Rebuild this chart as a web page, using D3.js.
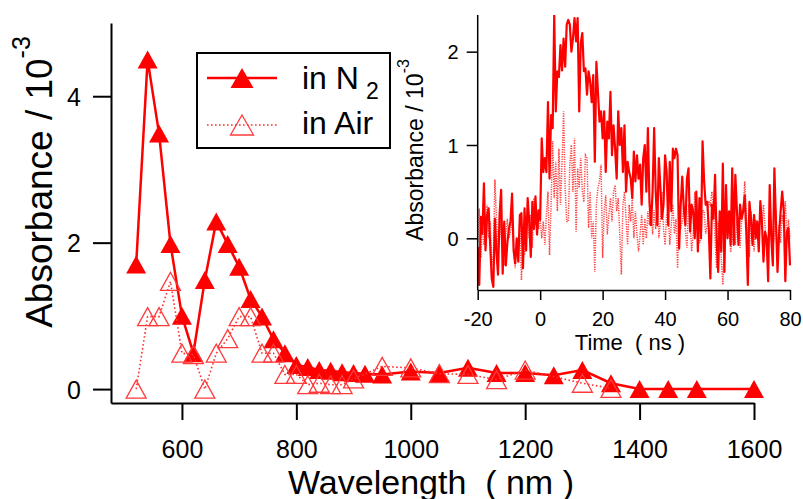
<!DOCTYPE html>
<html>
<head>
<meta charset="utf-8">
<script src="https://cdn.jsdelivr.net/npm/d3@7"></script>
<style>
html,body{margin:0;padding:0;background:#fff;}
svg{display:block;}
text{font-family:"Liberation Sans", Arial, sans-serif;}
</style>
</head>
<body>
<svg id="chart" width="803" height="499"></svg>
<script>
// ---------- main spectrum data ----------
const wavelengthN2 = [520,540,560,580,600,620,640,660,680,700,720,740,760,780,800,820,840,860,880,900,920,950,1000,1050,1100,1150,1200,1250,1300,1350,1400,1450,1500,1600];
const absorbanceN2 = [1.70,4.50,3.49,1.98,1.00,0.49,1.49,2.29,1.98,1.67,1.23,0.99,0.68,0.49,0.33,0.30,0.26,0.25,0.23,0.22,0.21,0.20,0.24,0.22,0.29,0.22,0.22,0.19,0.26,0.08,0.00,0.00,0.00,0.00];
const wavelengthAir = [520,540,560,580,600,620,640,660,680,700,720,740,760,780,800,820,840,860,880,900,950,1000,1050,1100,1150,1200,1300,1350];
const absorbanceAir = [0.00,0.99,0.99,1.47,0.49,0.47,0.00,0.49,0.69,0.99,0.99,0.49,0.49,0.20,0.20,0.06,0.08,0.06,0.06,0.14,0.31,0.29,0.21,0.20,0.13,0.26,0.08,0.01];
const xTicksMain = [600,800,1000,1200,1400,1600];
const yTicksMain = [0,2,4];

// ---------- inset kinetic trace data ----------
const timeStart = -20, timeEnd = 80;
const kineticN2 = [
-0.09,-0.50,0.23,0.05,0.59,-0.13,0.25,0.32,-0.07,-0.43,-0.52,0.21,-0.14,-0.39,0.25,0.52,-0.38,0.18,-0.29,-0.05,
0.10,0.18,0.48,-0.13,-0.27,0.00,-0.25,0.25,0.27,-0.32,0.32,-0.13,0.43,0.18,-0.20,0.39,0.10,0.45,0.04,0.30,
0.20,1.07,0.71,0.86,0.71,1.46,0.64,1.32,1.18,2.39,1.36,1.79,1.73,2.07,1.80,2.14,1.84,2.29,
2.34,2.29,2.00,2.14,2.36,2.11,2.36,1.36,2.09,2.20,1.79,1.82,1.54,1.79,1.68,1.46,1.75,0.82,1.89,1.57,
1.25,1.36,1.07,1.36,0.71,1.25,1.07,1.57,0.89,1.21,0.96,0.64,1.36,1.00,1.18,0.71,1.21,0.50,0.82,0.71,
0.64,0.43,0.93,0.61,0.89,0.64,0.79,0.36,0.86,1.00,0.50,1.18,0.39,0.14,0.50,
1.18,0.50,0.14,0.86,0.54,0.21,0.36,0.89,0.71,0.14,0.82,0.29,0.96,0.86,0.96,0.89,-0.11,0.36,0.66,0.32,0.14,0.64,0.75,0.07,0.36,0.29,0.00,
0.50,-0.14,0.43,0.00,1.04,0.61,0.36,0.39,0.10,-0.43,0.36,0.21,0.68,0.00,-0.36,0.29,-0.14,0.80,-0.36,0.57,0.00,
0.29,-0.07,0.75,-0.07,0.68,0.30,-0.07,0.36,0.21,0.29,0.46,0.07,-0.50,0.39,0.21,-0.07,0.25,0.00,0.18,-0.14,
0.40,0.18,-0.25,0.07,0.00,-0.46,0.57,0.00,-0.29,0.75,0.18,-0.36,0.04,0.29,0.50,0.29,-0.46,0.07,0.11,-0.29
];
const kineticAir = [
-0.04,0.32,-0.21,0.18,-0.07,0.07,0.36,0.00,0.18,-0.21,-0.29,0.63,0.21,-0.11,0.00,0.18,-0.14,-0.29,0.04,0.21,
0.00,0.07,0.18,-0.07,-0.32,0.00,-0.18,0.21,-0.45,-0.07,-0.18,0.04,0.32,0.00,0.25,-0.10,0.43,0.14,0.30,0.10,
0.21,0.00,0.18,-0.07,0.25,0.50,-0.18,0.36,1.04,0.43,0.82,0.29,0.96,0.36,0.79,1.36,0.54,0.18,
0.18,0.79,1.00,0.50,1.07,0.07,0.75,0.54,0.86,0.50,0.39,0.89,0.86,0.11,0.50,0.00,0.18,-0.36,0.36,0.54,
0.61,0.79,-0.21,0.29,0.46,0.04,0.25,0.43,0.18,0.50,0.57,0.29,0.43,0.04,-0.39,0.36,0.50,0.21,-0.07,0.36,
0.18,0.43,0.00,0.29,0.04,-0.14,0.04,0.25,-0.07,0.21,0.00,0.29,0.14,0.36,0.04,
0.30,0.10,0.45,0.00,0.20,0.50,0.10,-0.07,
0.25,0.29,-0.07,0.15,0.36,0.05,0.21,-0.32,0.29,0.10,0.18,0.35,0.07,-0.10,0.36,0.20,-0.14,0.04,0.50,0.10,
0.18,-0.05,0.00,0.30,0.29,0.05,0.14,0.40,0.36,0.50,0.29,0.00,-0.32,0.18,0.00,-0.21,-0.50,0.00,0.21,0.10,
0.18,-0.15,0.00,0.29,-0.07,0.20,0.07,-0.10,0.18,0.30,0.61,0.29,0.00,-0.20,0.29,0.10,-0.14,0.20,0.07,-0.05,
0.36,0.10,0.36,0.14,-0.10,0.00,0.25,0.21,-0.08,0.00,0.30,-0.21,0.14,-0.05,0.25,0.14,0.40,0.00,0.20,0.00
];
const xTicksInset = [-20,0,20,40,60,80];
const yTicksInset = [0,1,2];

const RED = "#ff0000";
const fmt = d => String(d);
const svg = d3.select("#chart");
svg.append("rect").attr("width",803).attr("height",499).attr("fill","#fff");

// ---------- main plot ----------
const x = d3.scaleLinear().domain([476,1600]).range([111,754]);
const y = d3.scaleLinear().domain([-0.19,5.0]).range([403,23]);

const gx = svg.append("g").attr("transform","translate(0,403)")
  .call(d3.axisBottom(x).tickValues(xTicksMain).tickFormat(fmt).tickSize(17).tickSizeOuter(0).tickPadding(20));
const gy = svg.append("g").attr("transform","translate(111,0)")
  .call(d3.axisLeft(y).tickValues(yTicksMain).tickFormat(fmt).tickSize(18).tickSizeOuter(0).tickPadding(12));
[gx,gy].forEach(g=>{
  g.selectAll("path,line").attr("stroke","#000").attr("stroke-width",2);
  g.selectAll("text").attr("font-family","Liberation Sans, Arial, sans-serif").attr("font-size",25).attr("fill","#000");
});
gy.selectAll("text").attr("dy","0.36em");

svg.append("text").attr("x",431).attr("y",494).attr("text-anchor","middle")
  .attr("font-size",34).style("white-space","pre").text("Wavelength  ( nm )");

const yl = svg.append("text").attr("transform","translate(52,182) rotate(-90)")
  .attr("text-anchor","middle").attr("font-size",37);
yl.append("tspan").text("Absorbance / 10");
yl.append("tspan").attr("dy",-22).attr("font-size",25).text("-3");

function tri(w,h){ return `M0,${-h/2}L${w/2},${h/2}L${-w/2},${h/2}Z`; }

const lineMain = d3.line().x(d=>x(d[0])).y(d=>y(d[1]));
const dataN2 = wavelengthN2.map((w,i)=>[w,absorbanceN2[i]]);
const dataAir = wavelengthAir.map((w,i)=>[w,absorbanceAir[i]]);

svg.append("path").datum(dataN2).attr("d",lineMain).attr("fill","none")
  .attr("stroke",RED).attr("stroke-width",2.5);
svg.append("g").selectAll("path").data(dataN2).join("path")
  .attr("transform",d=>`translate(${x(d[0])},${y(d[1])})`).attr("d",tri(20,18)).attr("fill",RED);

svg.append("path").datum(dataAir).attr("d",lineMain).attr("fill","none")
  .attr("stroke","#ff3030").attr("stroke-width",1.6).attr("stroke-dasharray","1.6,2.4");
svg.append("g").selectAll("path").data(dataAir).join("path")
  .attr("transform",d=>`translate(${x(d[0])},${y(d[1])})`).attr("d",tri(20,18))
  .attr("fill","none").attr("stroke","#ff3a3a").attr("stroke-width",1.3);

// ---------- legend ----------
const lg = svg.append("g");
lg.append("rect").attr("x",197).attr("y",53).attr("width",193).attr("height",95)
  .attr("fill","#fff").attr("stroke","#000").attr("stroke-width",2);
lg.append("line").attr("x1",207).attr("x2",277).attr("y1",78).attr("y2",78).attr("stroke",RED).attr("stroke-width",2.5);
lg.append("path").attr("transform","translate(242,78)").attr("d",tri(23,20)).attr("fill",RED);
lg.append("line").attr("x1",207).attr("x2",277).attr("y1",125).attr("y2",125).attr("stroke","#ff3030")
  .attr("stroke-width",1.6).attr("stroke-dasharray","1.6,2.4");
lg.append("path").attr("transform","translate(242,125)").attr("d",tri(23,20)).attr("fill","none")
  .attr("stroke","#ff3a3a").attr("stroke-width",1.3);
const t1 = lg.append("text").attr("x",302).attr("y",89).attr("font-size",32);
t1.append("tspan").text("in N");
t1.append("tspan").attr("x",366).attr("dy",10).attr("font-size",23).text("2");
lg.append("text").attr("x",302).attr("y",134).attr("font-size",32).text("in Air");

// ---------- inset ----------
const xi = d3.scaleLinear().domain([-20,80]).range([477.7,790]);
const yi = d3.scaleLinear().domain([-0.554,2.393]).range([290,15]);

svg.append("defs").append("clipPath").attr("id","insetClip")
  .append("rect").attr("x",477).attr("y",15).attr("width",315).attr("height",273);

const tAt = (i,len)=> timeStart + i*(timeEnd-timeStart)/(len-1);
const kN2 = kineticN2.map((v,i)=>[tAt(i,kineticN2.length),v]);
const kAir = kineticAir.map((v,i)=>[tAt(i,kineticAir.length),v]);
const lineIn = d3.line().x(d=>xi(d[0])).y(d=>yi(d[1]));

const ig = svg.append("g").attr("clip-path","url(#insetClip)");
ig.append("path").datum(kAir).attr("d",lineIn).attr("fill","none")
  .attr("stroke","#ff4040").attr("stroke-width",1.5).attr("stroke-dasharray","1.2,1.2");
ig.append("path").datum(kN2).attr("d",lineIn).attr("fill","none")
  .attr("stroke",RED).attr("stroke-width",2.2).attr("stroke-linejoin","round");

const gxi = svg.append("g").attr("transform","translate(0,290)")
  .call(d3.axisBottom(xi).tickValues(xTicksInset).tickFormat(fmt).tickSize(10).tickSizeOuter(0).tickPadding(12));
const gyi = svg.append("g").attr("transform","translate(477.7,0)")
  .call(d3.axisLeft(yi).tickValues(yTicksInset).tickFormat(fmt).tickSize(11).tickSizeOuter(0).tickPadding(8));
gyi.select(".domain").attr("d","M0,15V290");
[gxi,gyi].forEach(g=>{
  g.selectAll("path,line").attr("stroke","#000").attr("stroke-width",1.5);
  g.selectAll("text").attr("font-family","Liberation Sans, Arial, sans-serif").attr("font-size",20).attr("fill","#000");
});
gyi.selectAll("text").attr("dy","0.36em");

svg.append("text").attr("x",630).attr("y",350).attr("text-anchor","middle")
  .attr("font-size",22).style("white-space","pre").text("Time  ( ns )");

const yli = svg.append("text").attr("transform","translate(423,150) rotate(-90)")
  .attr("text-anchor","middle").attr("font-size",23);
yli.append("tspan").text("Absorbance / 10");
yli.append("tspan").attr("dy",-14).attr("font-size",16).text("-3");
</script>
</body>
</html>
